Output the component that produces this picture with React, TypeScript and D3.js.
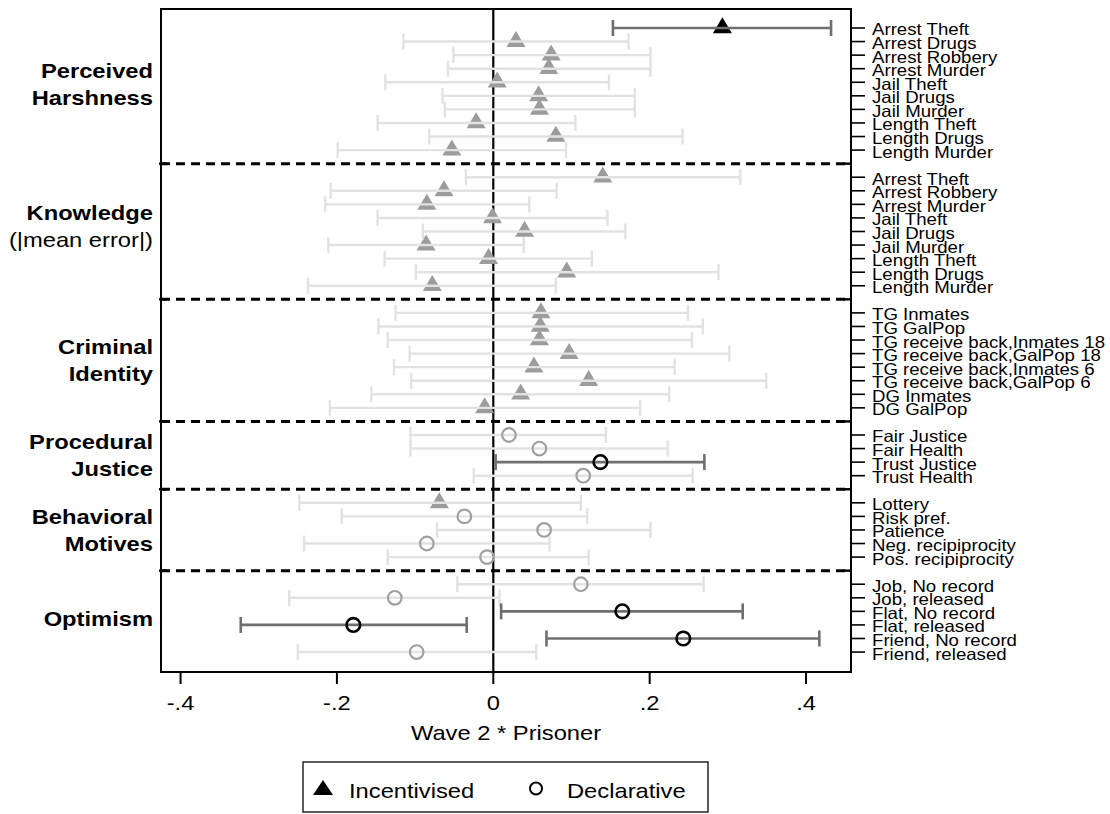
import React, { useRef, useEffect } from 'react';
import * as d3 from 'd3';

const width = 1110;
const height = 814;
// the original text is a bit wider than plain Helvetica, so widen it a touch
const stretch = 1.13;
const font = '"Liberation Sans", Arial, Helvetica, sans-serif';

const groupTitles = [
    ['Perceived', 'Harshness'],
    ['Knowledge', '(|mean error|)'],
    ['Criminal', 'Identity'],
    ['Procedural', 'Justice'],
    ['Behavioral', 'Motives'],
    ['Optimism'],
];
const groupSizes = [10, 9, 8, 4, 5, 6];
// small vertical nudges of the group titles (px)
const titleNudge = [-5, -5, 0, 0, 0, 0];

const rowLabels = [
    'Arrest Theft', 'Arrest Drugs', 'Arrest Robbery', 'Arrest Murder', 'Jail Theft',
    'Jail Drugs', 'Jail Murder', 'Length Theft', 'Length Drugs', 'Length Murder',
    'Arrest Theft', 'Arrest Robbery', 'Arrest Murder', 'Jail Theft', 'Jail Drugs',
    'Jail Murder', 'Length Theft', 'Length Drugs', 'Length Murder',
    'TG Inmates', 'TG GalPop', 'TG receive back,Inmates 18', 'TG receive back,GalPop 18',
    'TG receive back,Inmates 6', 'TG receive back,GalPop 6', 'DG Inmates', 'DG GalPop',
    'Fair Justice', 'Fair Health', 'Trust Justice', 'Trust Health',
    'Lottery', 'Risk pref.', 'Patience', 'Neg. recipiprocity', 'Pos. recipiprocity',
    'Job, No record', 'Job, released', 'Flat, No record', 'Flat, released',
    'Friend, No record', 'Friend, released',
];

const estimates = [
    0.293, 0.029, 0.074, 0.071, 0.005, 0.058, 0.059, -0.022, 0.080, -0.053,
    0.140, -0.063, -0.085, -0.001, 0.040, -0.086, -0.006, 0.094, -0.078,
    0.061, 0.060, 0.059, 0.097, 0.052, 0.122, 0.035, -0.011,
    0.020, 0.059, 0.137, 0.115,
    -0.069, -0.037, 0.065, -0.085, -0.008,
    0.112, -0.126, 0.165, -0.179, 0.243, -0.098,
];
const lowerCI = [
    0.153, -0.115, -0.051, -0.058, -0.138, -0.065, -0.062, -0.148, -0.082, -0.199,
    -0.035, -0.208, -0.215, -0.148, -0.090, -0.211, -0.139, -0.099, -0.237,
    -0.125, -0.147, -0.135, -0.107, -0.127, -0.105, -0.156, -0.209,
    -0.106, -0.106, 0.003, -0.025,
    -0.248, -0.194, -0.072, -0.242, -0.135,
    -0.046, -0.261, 0.010, -0.323, 0.068, -0.250,
];
const upperCI = [
    0.432, 0.173, 0.201, 0.201, 0.148, 0.181, 0.181, 0.105, 0.242, 0.093,
    0.316, 0.081, 0.046, 0.146, 0.169, 0.039, 0.126, 0.288, 0.080,
    0.249, 0.268, 0.254, 0.302, 0.232, 0.349, 0.225, 0.188,
    0.144, 0.223, 0.270, 0.255,
    0.112, 0.120, 0.201, 0.072, 0.122,
    0.269, 0.008, 0.319, -0.034, 0.417, 0.055,
];
// I = incentivised (triangle), D = declarative (circle)
const markerKinds = [
    'I', 'I', 'I', 'I', 'I', 'I', 'I', 'I', 'I', 'I',
    'I', 'I', 'I', 'I', 'I', 'I', 'I', 'I', 'I',
    'I', 'I', 'I', 'I', 'I', 'I', 'I', 'I',
    'D', 'D', 'D', 'D',
    'I', 'D', 'D', 'D', 'D',
    'D', 'D', 'D', 'D', 'D', 'D',
];

const xTicks = [-0.4, -0.2, 0, 0.2, 0.4];
const xTickLabels = ['-.4', '-.2', '0', '.2', '.4'];
const xTitle = 'Wave 2 * Prisoner';
const legendLabels = ['Incentivised', 'Declarative'];

const triPath = (w: number, h: number) =>
    `M0,${-2 * h / 3}L${w / 2},${h / 3}L${-w / 2},${h / 3}Z`;

export default function App() {
    const ref = useRef<SVGSVGElement>(null);

    useEffect(() => {
        if (!ref.current) return;
        const svg = d3.select(ref.current);
        svg.selectAll('*').remove();

        // slot positions: one empty slot between groups
        const slots: number[] = [];
        const groupRange: [number, number][] = [];
        let idx = 0;
        groupSizes.forEach((n, g) => {
            const first = idx + g;
            for (let i = 0; i < n; i++) { slots.push(idx + g); idx++; }
            groupRange.push([first, idx - 1 + g]);
        });
        const lastSlot = slots[slots.length - 1];

        const x = d3.scaleLinear().domain([-0.425, 0.4575]).range([161, 851]);
        const y = d3.scaleLinear().domain([-1.4, lastSlot + 1.47]).range([9, 672]);
        const [x0, x1] = x.range();
        const [y0, y1] = y.range();

        const addText = (g: any, tx: number, ty: number, str: string, size: number, anchor = 'start', weight = 'normal') =>
            g.append('text')
                .attr('transform', `translate(${tx},${ty}) scale(${stretch},1)`)
                .attr('text-anchor', anchor)
                .attr('font-family', font)
                .attr('font-size', size)
                .attr('font-weight', weight)
                .attr('fill', '#000')
                .text(str);

        const data = rowLabels.map((label, i) => ({
            label,
            slot: slots[i],
            est: estimates[i],
            lo: lowerCI[i],
            hi: upperCI[i],
            kind: markerKinds[i],
            sig: lowerCI[i] > 0 || upperCI[i] < 0,
        }));

        // group separators
        groupRange.slice(0, -1).forEach(([, last]) => {
            const sy = y(last + 1);
            svg.append('line')
                .attr('x1', x0).attr('x2', x1)
                .attr('y1', sy).attr('y2', sy)
                .attr('stroke', '#000').attr('stroke-width', 3)
                .attr('stroke-dasharray', '9,6');
            // little marks on the frame at the separators
            svg.append('line')
                .attr('x1', x0 - 2).attr('x2', x0 + 6)
                .attr('y1', sy).attr('y2', sy)
                .attr('stroke', '#000').attr('stroke-width', 2.4);
            svg.append('line')
                .attr('x1', x1 - 8).attr('x2', x1)
                .attr('y1', sy).attr('y2', sy)
                .attr('stroke', '#000').attr('stroke-width', 2.4);
        });

        // zero line
        svg.append('line')
            .attr('x1', x(0)).attr('x2', x(0))
            .attr('y1', y0).attr('y2', y1)
            .attr('stroke', '#000').attr('stroke-width', 2.2);

        // triangles under the CI lines
        svg.append('g').selectAll('path')
            .data(data.filter(d => d.kind === 'I'))
            .join('path')
            .attr('d', triPath(19, 16))
            .attr('transform', d => `translate(${x(d.est)},${y(d.slot)})`)
            .attr('fill', d => d.sig ? '#000' : '#9c9c9c');

        // CI bars
        const ci = svg.append('g').selectAll('g').data(data).join('g')
            .attr('stroke', d => d.sig ? '#6f6f6f' : '#e2e2e2')
            .attr('stroke-width', d => d.sig ? 2.6 : 2.4);
        ci.append('line')
            .attr('x1', d => x(d.lo)).attr('x2', d => x(d.hi))
            .attr('y1', d => y(d.slot)).attr('y2', d => y(d.slot));
        ci.append('line')
            .attr('x1', d => x(d.lo)).attr('x2', d => x(d.lo))
            .attr('y1', d => y(d.slot) - 8).attr('y2', d => y(d.slot) + 8);
        ci.append('line')
            .attr('x1', d => x(d.hi)).attr('x2', d => x(d.hi))
            .attr('y1', d => y(d.slot) - 8).attr('y2', d => y(d.slot) + 8);

        // circles on top
        svg.append('g').selectAll('circle')
            .data(data.filter(d => d.kind === 'D'))
            .join('circle')
            .attr('cx', d => x(d.est)).attr('cy', d => y(d.slot))
            .attr('r', 6.8)
            .attr('fill', 'none')
            .attr('stroke', d => d.sig ? '#000' : '#a0a0a0')
            .attr('stroke-width', d => d.sig ? 2.6 : 2.2);

        // frame
        svg.append('rect')
            .attr('x', x0).attr('y', y0)
            .attr('width', x1 - x0).attr('height', y1 - y0)
            .attr('fill', 'none').attr('stroke', '#000').attr('stroke-width', 2);

        // right axis: row labels
        const right = svg.append('g');
        data.forEach(d => {
            right.append('line')
                .attr('x1', x1).attr('x2', x1 + 14)
                .attr('y1', y(d.slot)).attr('y2', y(d.slot))
                .attr('stroke', '#000').attr('stroke-width', 1.6);
            addText(right, x1 + 21, y(d.slot) + 7.5, d.label, 16.5);
        });

        // left group titles
        const left = svg.append('g');
        groupTitles.forEach((lines, g) => {
            const [a, b] = groupRange[g];
            const mid = (y(a) + y(b)) / 2 + titleNudge[g];
            lines.forEach((str, k) => {
                const cy = mid + (k - (lines.length - 1) / 2) * 27;
                const bold = !(g === 1 && k === 1);
                addText(left, 153, cy + 7.5, str, 21, 'end', bold ? 'bold' : 'normal');
            });
        });

        // bottom axis
        const bottom = svg.append('g');
        xTicks.forEach((t, i) => {
            bottom.append('line')
                .attr('x1', x(t)).attr('x2', x(t))
                .attr('y1', y1).attr('y2', y1 + 12)
                .attr('stroke', '#000').attr('stroke-width', 2);
            addText(bottom, x(t), y1 + 38, xTickLabels[i], 21, 'middle');
        });
        addText(bottom, (x0 + x1) / 2, 740, xTitle, 21, 'middle');

        // legend
        const lg = svg.append('g');
        lg.append('rect')
            .attr('x', 303).attr('y', 762).attr('width', 405).attr('height', 50)
            .attr('fill', '#fff').attr('stroke', '#333').attr('stroke-width', 1.6);
        lg.append('path')
            .attr('d', triPath(20, 15))
            .attr('transform', 'translate(323,790)')
            .attr('fill', '#000');
        addText(lg, 349, 797.5, legendLabels[0], 21);
        lg.append('circle')
            .attr('cx', 536).attr('cy', 788.5).attr('r', 6)
            .attr('fill', 'none').attr('stroke', '#000').attr('stroke-width', 2);
        addText(lg, 567, 797.5, legendLabels[1], 21);
    }, []);

    return (
        <svg
            ref={ref}
            width={width}
            height={height}
            style={{ position: 'absolute', left: 0, top: 0, background: '#fff' }}
        />
    );
}
